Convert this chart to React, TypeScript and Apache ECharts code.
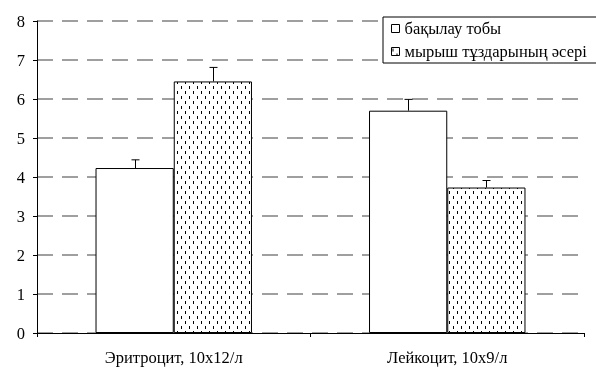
import React, { useEffect, useRef } from "react";
import * as echarts from "echarts";

const categories = ["Эритроцит, 10х12/л", "Лейкоцит, 10х9/л"];
const seriesNames = ["бақылау тобы", "мырыш тұздарының әсері"];
const controlValues = [4.23, 5.7];
const controlErrors = [0.21, 0.29];
const zincValues = [6.45, 3.73];
const zincErrors = [0.36, 0.18];
const yTicks = [0, 1, 2, 3, 4, 5, 6, 7, 8];

function makePattern(): string {
  const c = document.createElement("canvas");
  c.width = 8;
  c.height = 10;
  const ctx = c.getContext("2d")!;
  ctx.fillStyle = "#fff";
  ctx.fillRect(0, 0, 8, 10);
  ctx.fillStyle = "#000";
  ctx.fillRect(1, 1, 1, 3);
  ctx.fillRect(5, 6, 1, 3);
  return c.toDataURL();
}

const BAR_FRAC = 78 / 273;

export default function App() {
  const ref = useRef<HTMLDivElement>(null);
  useEffect(() => {
    const chart = echarts.init(ref.current!, null, { renderer: "svg" });
    const pattern = { image: makePattern(), repeat: "repeat" } as any;
    const font = "Liberation Serif";
    const fs = 16.5;
    const errSeries = (vals: number[], errs: number[], side: number) => ({
      type: "custom",
      silent: true,
      z: 5,
      data: vals.map((v, i) => [i, v, v + errs[i]]),
      renderItem: (params: any, api: any) => {
        const i = api.value(0);
        const p0 = api.coord([i, api.value(1)]);
        const p1 = api.coord([i, api.value(2)]);
        const w = api.size([1, 0])[0] * BAR_FRAC;
        const x = Math.round(p0[0] + side * w / 2) + 0.5;
        const style = { stroke: "#000", lineWidth: 1 };
        return {
          type: "group",
          children: [
            { type: "line", shape: { x1: x, y1: p0[1], x2: x, y2: p1[1] }, style },
            { type: "line", shape: { x1: x - 4, y1: p1[1], x2: x + 4, y2: p1[1] }, style },
          ],
        };
      },
    });
    chart.setOption({
      animation: false,
      textStyle: { fontFamily: font },
      grid: { left: 37, right: 12, top: 21, bottom: 36 },
      legend: {
        orient: "vertical",
        left: 383,
        top: 17,
        padding: [2, 20, 2, 8],
        itemGap: 4,
        itemWidth: 8,
        itemHeight: 8,
        icon: "rect",
        backgroundColor: "#fff",
        borderColor: "#000",
        borderWidth: 1,
        borderRadius: 0,
        itemStyle: { borderWidth: 1, borderColor: "#000" },
        textStyle: { fontFamily: font, fontSize: fs, color: "#000", lineHeight: 19 },
        data: seriesNames,
      },
      xAxis: {
        type: "category",
        data: categories,
        axisLine: { lineStyle: { color: "#000", width: 1 } },
        axisTick: { show: true, length: 4, lineStyle: { color: "#000" } },
        axisLabel: { fontFamily: font, fontSize: fs, color: "#000", margin: 16 },
      },
      yAxis: {
        type: "value",
        min: 0,
        max: 8,
        interval: 1,
        axisLine: { show: true, lineStyle: { color: "#000", width: 1 } },
        axisTick: { show: true, length: 4, lineStyle: { color: "#000" } },
        axisLabel: { fontFamily: font, fontSize: fs, color: "#000", margin: 12 },
        splitLine: { lineStyle: { color: "#808080", width: 1.5, type: [16, 9] } },
      },
      series: [
        {
          name: seriesNames[0],
          type: "bar",
          data: controlValues,
          barWidth: "28.6%",
          barGap: "0%",
          itemStyle: { color: "#fff", borderColor: "#000", borderWidth: 1 },
        },
        {
          name: seriesNames[1],
          type: "bar",
          data: zincValues,
          barWidth: "28.6%",
          barGap: "0%",
          itemStyle: { color: pattern, borderColor: "#000", borderWidth: 1 },
        },
        errSeries(controlValues, controlErrors, -1),
        errSeries(zincValues, zincErrors, 1),
      ],
    } as any);
    return () => chart.dispose();
  }, []);
  return (
    <div
      ref={ref}
      style={{ position: "fixed", left: 0, top: 0, width: 596, height: 369 }}
    />
  );
}
